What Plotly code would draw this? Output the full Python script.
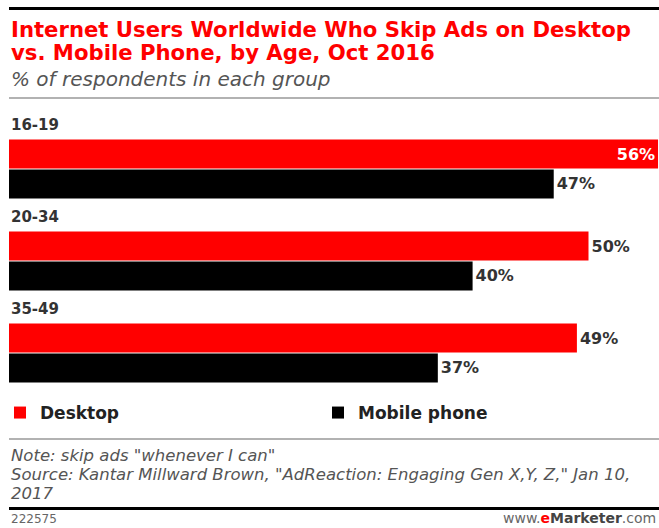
import plotly.graph_objects as go

age_groups = ["16-19", "20-34", "35-49"]
desktop = [56, 50, 49]
mobile = [47, 40, 37]

title_l1 = "Internet Users Worldwide Who Skip Ads on Desktop"
title_l2 = "vs. Mobile Phone, by Age, Oct 2016"
subtitle = "% of respondents in each group"
note = 'Note: skip ads "whenever I can"'
source = 'Source: Kantar Millward Brown, "AdReaction: Engaging Gen X,Y, Z," Jan 10,'
source2 = "2017"
chart_id = "222575"

W, H = 659, 528
RED = "#ff0000"
FONT = "DejaVu Sans"

def py(p):
    return 1 - p / H

def px(p):
    return p / W

fig = go.Figure()
fig.add_trace(go.Bar(
    y=age_groups, x=desktop, orientation="h", name="Desktop",
    marker=dict(color=RED, line=dict(width=0)),
    texttemplate="%{x}%",
    textposition=["inside", "outside", "outside"],
    insidetextanchor="end",
    insidetextfont=dict(color="white", family=FONT, size=16, weight="bold"),
    outsidetextfont=dict(color="#333333", family=FONT, size=16, weight="bold"),
    cliponaxis=False,
))
fig.add_trace(go.Bar(
    y=age_groups, x=mobile, orientation="h", name="Mobile phone",
    marker=dict(color="#000000", line=dict(width=0)),
    texttemplate="%{x}%",
    textposition="outside",
    outsidetextfont=dict(color="#333333", family=FONT, size=16, weight="bold"),
    cliponaxis=False,
))

annotations = []
for g in age_groups:
    annotations.append(dict(
        x=px(9), xref="paper", xanchor="left", y=g, yref="y", yshift=44,
        text=g, showarrow=False,
        font=dict(family=FONT, size=15, color="#333333", weight="bold"),
    ))

def txt(x, y, text, size, color, weight="normal", style="normal", xanchor="left"):
    annotations.append(dict(
        x=px(x), y=py(y), xref="paper", yref="paper", xanchor=xanchor, yanchor="middle",
        text=text, showarrow=False,
        font=dict(family=FONT, size=size, color=color, weight=weight, style=style),
    ))

txt(9, 29, title_l1, 21.2, RED, weight="bold")
txt(9, 53, title_l2, 21.2, RED, weight="bold")
txt(9, 79, subtitle, 20, "#555555", style="italic")
txt(9, 455, note, 16.5, "#555555", style="italic")
txt(9, 474, source, 16.5, "#555555", style="italic")
txt(9, 493, source2, 16.5, "#555555", style="italic")
txt(9, 519, chart_id, 12, "#666666")
txt(658, 518, '<span style="color:#666666">www.</span><b><span style="color:#ff0000">e</span><span style="color:#444444">Marketer</span></b><span style="color:#666666">.com</span>', 14, "#666666", xanchor="right")

shapes = [
    dict(type="line", xref="paper", yref="paper", x0=px(9), x1=1, y0=py(8.5), y1=py(8.5),
         line=dict(color="#000000", width=3)),
    dict(type="line", xref="paper", yref="paper", x0=px(9), x1=1, y0=py(98), y1=py(98),
         line=dict(color="#999999", width=1.5)),
    dict(type="line", xref="paper", yref="paper", x0=px(9), x1=1, y0=py(439), y1=py(439),
         line=dict(color="#999999", width=1.5)),
    dict(type="line", xref="paper", yref="paper", x0=px(9), x1=1, y0=py(508.5), y1=py(508.5),
         line=dict(color="#000000", width=3)),
]

fig.update_layout(
    width=W, height=H,
    margin=dict(l=0, r=0, t=0, b=0),
    paper_bgcolor="white", plot_bgcolor="white",
    barmode="group", bargap=0.348, bargroupgap=0.03,
    xaxis=dict(domain=[px(9), 1], range=[0, 650 / 11.59], visible=False, fixedrange=True),
    yaxis=dict(type="category", categoryorder="array", categoryarray=age_groups,
               range=[(H - 169) / 92, -169 / 92], visible=False, fixedrange=True),
    showlegend=True,
    legend=dict(orientation="h", x=px(0), y=py(413), xanchor="left", yanchor="middle",
                font=dict(family=FONT, size=17, color="#222222", weight="bold"),
                entrywidth=273, entrywidthmode="pixels", traceorder="normal",
                bgcolor="rgba(0,0,0,0)", itemsizing="constant"),
    annotations=annotations,
    shapes=shapes,
)

fig.write_html("out.html")
